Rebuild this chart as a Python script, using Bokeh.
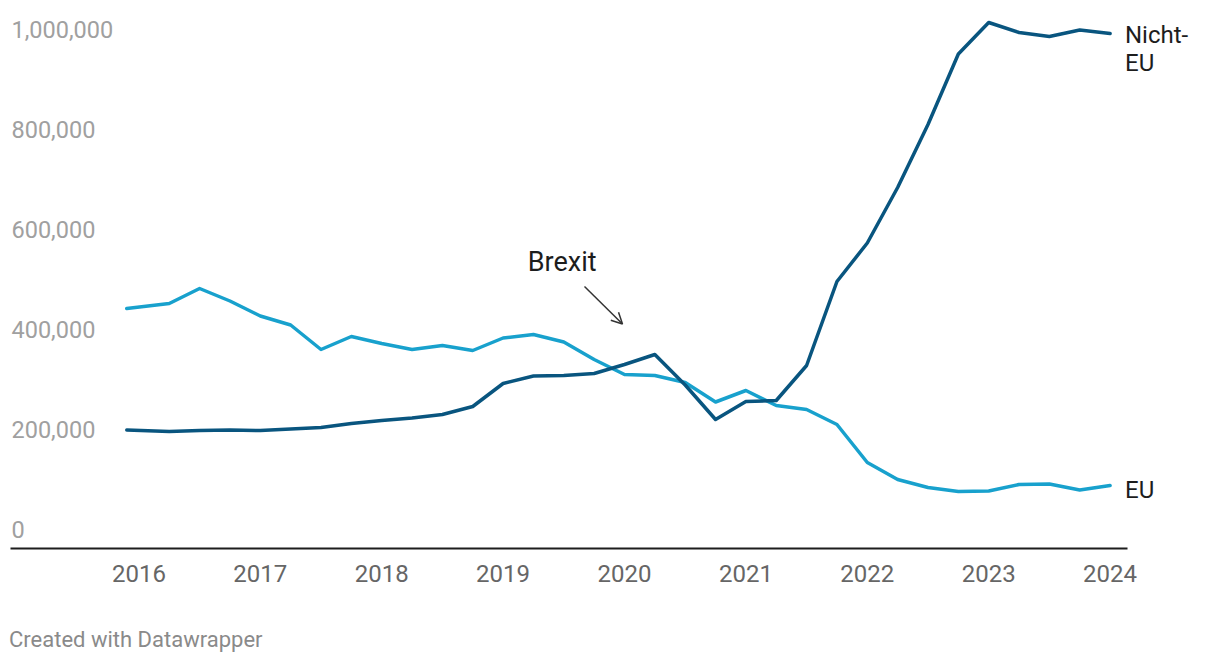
from bokeh.plotting import figure
from bokeh.models import ColumnDataSource, Label, Arrow, OpenHead, FixedTicker
from bokeh.embed import file_html
from bokeh.resources import INLINE
from bokeh.core.properties import value

# ---------------- data ----------------
periods = [2015.9, 2016.25, 2016.5, 2016.75, 2017.0, 2017.25, 2017.5, 2017.75,
           2018.0, 2018.25, 2018.5, 2018.75, 2019.0, 2019.25, 2019.5, 2019.75,
           2020.0, 2020.25, 2020.5, 2020.75, 2021.0, 2021.25, 2021.5, 2021.75,
           2022.0, 2022.25, 2022.5, 2022.75, 2023.0, 2023.25, 2023.5, 2023.75,
           2024.0]
eu = [480000, 490000, 520000, 495000, 465000, 447000, 398000, 424000,
      410000, 398000, 406000, 396000, 421000, 428000, 413000, 378000,
      348000, 346000, 332000, 293000, 316000, 286000, 278000, 248000,
      172000, 138000, 122000, 114000, 115000, 128000, 129000, 117000,
      126000]
non_eu = [237000, 234000, 236000, 237000, 236000, 239000, 242000, 250000,
          256000, 261000, 268000, 284000, 330000, 345000, 346000, 350000,
          368000, 388000, 327000, 258000, 294000, 296000, 366000, 534000,
          611000, 722000, 848000, 989000, 1052000, 1032000, 1024000, 1037000,
          1030000]
x_ticks = [2016, 2017, 2018, 2019, 2020, 2021, 2022, 2023, 2024]
x_tick_labels = ["2016", "2017", "2018", "2019", "2020", "2021", "2022", "2023", "2024"]
y_ticks = [0, 200000, 400000, 600000, 800000, 1000000]
y_tick_labels = ["0", "200,000", "400,000", "600,000", "800,000", "1,000,000"]
series_labels = ["EU", "Nicht-", "EU"]
annotation_text = "Brexit"
footer_text = "Created with Datawrapper"

EU_COLOR = "#18a1cd"
NONEU_COLOR = "#09557f"
FONT = "Roboto"

# ---------------- layout (page pixels) ----------------
W, H = 1212, 656
ZERO_PX = 548          # page y of the zero line / baseline
PX_PER_YEAR = 121.4
PX_2016 = 138.4
PX_PER_UNIT = 1 / 2000.0
TEXT_SHIFT = 9         # empirical baseline correction (px, upwards)
X0 = 2016 - PX_2016 / PX_PER_YEAR
X1 = X0 + W / PX_PER_YEAR
Y0 = -(H - ZERO_PX) / PX_PER_UNIT
Y1 = ZERO_PX / PX_PER_UNIT


def xd(px):
    return X0 + px / PX_PER_YEAR


def yd(py):
    return Y1 - py / PX_PER_UNIT


p = figure(width=W, height=H, x_range=(X0, X1), y_range=(Y0, Y1),
           output_backend="svg", toolbar_location=None, y_axis_location=None,
           min_border=0, min_border_left=0, min_border_right=0,
           min_border_top=0, min_border_bottom=0)
p.outline_line_color = None
p.xgrid.visible = False
p.ygrid.visible = False
p.background_fill_color = "white"
p.border_fill_color = "white"

ax = p.xaxis[0]
ax.fixed_location = 0
ax.ticker = FixedTicker(ticks=x_ticks)
ax.bounds = (xd(10), xd(1127))
ax.major_label_overrides = {t: l for t, l in zip(x_ticks, x_tick_labels)}
ax.axis_line_color = "#1d1d1d"
ax.axis_line_width = 2
ax.major_tick_line_color = None
ax.minor_tick_line_color = None
ax.major_label_text_font = FONT
ax.major_label_text_font_size = "24px"
ax.major_label_text_color = "#666666"
ax.major_label_standoff = 10

# y tick labels inside plot, above (invisible) gridlines
ysrc = ColumnDataSource(dict(x=[xd(11)] * len(y_ticks),
                             y=[t + (10.5 + TEXT_SHIFT) / PX_PER_UNIT for t in y_ticks],
                             text=y_tick_labels))
p.text(x="x", y="y", text="text", source=ysrc, text_font=value(FONT),
       text_font_size="23.5px", text_color="#a0a0a0", text_align="left",
       text_baseline="alphabetic")

src = ColumnDataSource(dict(x=periods, eu=eu, non_eu=non_eu))
p.line("x", "eu", source=src, line_color=EU_COLOR, line_width=3.5,
       line_join="round", line_cap="round")
p.line("x", "non_eu", source=src, line_color=NONEU_COLOR, line_width=3.5,
       line_join="round", line_cap="round")

# series labels
for txt, py in zip(series_labels, [498.3, 43.3, 71.7]):
    p.add_layout(Label(x=xd(1124.5), y=yd(py - TEXT_SHIFT), text=txt, text_font=FONT,
                       text_font_size="24px", text_color="#1d1d1d",
                       text_baseline="alphabetic", text_align="left"))

# Brexit annotation
p.add_layout(Label(x=xd(527.3), y=yd(270.7 - TEXT_SHIFT), text=annotation_text,
                   text_font=FONT, text_font_size="27px", text_color="#1d1d1d",
                   text_baseline="alphabetic", text_align="left"))
p.add_layout(Arrow(x_start=xd(584), y_start=yd(286), x_end=xd(622), y_end=yd(323.5),
                   line_color="#333333", line_width=1.5,
                   end=OpenHead(size=11, line_width=1.5, line_color="#333333")))

# footer
p.add_layout(Label(x=xd(8.5), y=yd(648 - TEXT_SHIFT), text=footer_text,
                   text_font=FONT, text_font_size="22px", text_color="#8a8a8a",
                   text_baseline="alphabetic", text_align="left"))

open("out.html", "w").write(file_html(p, INLINE))
